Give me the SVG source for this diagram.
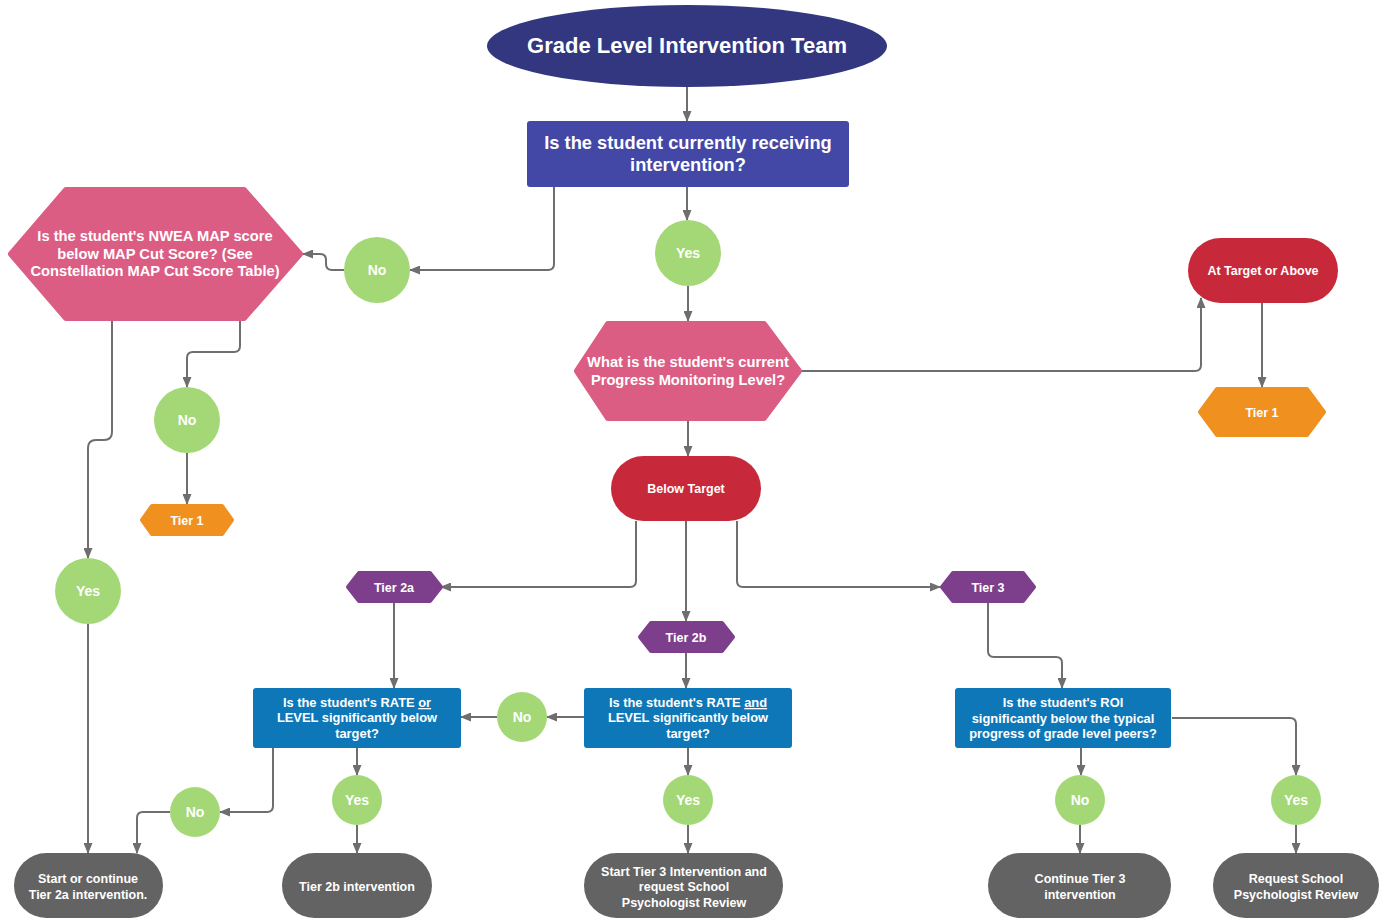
<svg xmlns="http://www.w3.org/2000/svg" width="1384" height="920" viewBox="0 0 1384 920">
<style>
text{font-family:"Liberation Sans",Arial,sans-serif;font-weight:bold;fill:#ffffff;text-anchor:middle}
.c{fill:none;stroke:#6e6e6e;stroke-width:2}
.g{fill:#a4d877}
.pk{fill:#dc5d84;stroke:#dc5d84;stroke-width:6;stroke-linejoin:round}
.or{fill:#f0911f;stroke:#f0911f;stroke-width:4;stroke-linejoin:round}
.pu{fill:#7d3f8b;stroke:#7d3f8b;stroke-width:4;stroke-linejoin:round}
.rd{fill:#c8293a}
.bl{fill:#0e77b8}
.gy{fill:#636363}
.t12{font-size:12.5px}
.tb{font-size:12.9px}
.t14{font-size:14px}
.th{font-size:14.7px}
</style>
<defs>
<marker id="a" markerUnits="userSpaceOnUse" markerWidth="11" markerHeight="9" refX="10" refY="4.5" orient="auto">
<path d="M0,0 L11,4.5 L0,9 z" fill="#6e6e6e"/>
</marker>
</defs>
<rect width="1384" height="920" fill="#ffffff"/>

<g id="connectors">
<path class="c" marker-end="url(#a)" d="M687,87 L687,121"/>
<path class="c" marker-end="url(#a)" d="M554,187 L554,264 Q554,270 548,270 L410,270"/>
<path class="c" marker-end="url(#a)" d="M344,270 L332,270 Q326,270 326,264 L326,260 Q326,254 320,254 L303,254"/>
<path class="c" marker-end="url(#a)" d="M687,187 L687,220"/>
<path class="c" marker-end="url(#a)" d="M688,286 L688,321"/>
<path class="c" marker-end="url(#a)" d="M802,371 L1195,371 Q1201,371 1201,365 L1201,298"/>
<path class="c" marker-end="url(#a)" d="M1262,303 L1262,387"/>
<path class="c" marker-end="url(#a)" d="M688,421 L688,456"/>
<path class="c" marker-end="url(#a)" d="M112,320 L112,432 Q112,440 104,440 L96,440 Q88,440 88,448 L88,558"/>
<path class="c" marker-end="url(#a)" d="M240,320 L240,346 Q240,352 234,352 L193,352 Q187,352 187,358 L187,387"/>
<path class="c" marker-end="url(#a)" d="M187,453 L187,504"/>
<path class="c" marker-end="url(#a)" d="M88,624 L88,853"/>
<path class="c" marker-end="url(#a)" d="M636,521 L636,581 Q636,587 630,587 L441,587"/>
<path class="c" marker-end="url(#a)" d="M686,521 L686,621"/>
<path class="c" marker-end="url(#a)" d="M737,521 L737,581 Q737,587 743,587 L940,587"/>
<path class="c" marker-end="url(#a)" d="M394,603 L394,688"/>
<path class="c" marker-end="url(#a)" d="M686,653 L686,688"/>
<path class="c" marker-end="url(#a)" d="M988,603 L988,651 Q988,657 994,657 L1056,657 Q1062,657 1062,663 L1062,688"/>
<path class="c" marker-end="url(#a)" d="M584,717 L547,717"/>
<path class="c" marker-end="url(#a)" d="M497,717 L461,717"/>
<path class="c" marker-end="url(#a)" d="M357,748 L357,775"/>
<path class="c" marker-end="url(#a)" d="M357,825 L357,853"/>
<path class="c" marker-end="url(#a)" d="M273,748 L273,806 Q273,812 267,812 L220,812"/>
<path class="c" marker-end="url(#a)" d="M170,812 L143,812 Q137,812 137,818 L137,853"/>
<path class="c" marker-end="url(#a)" d="M688,748 L688,775"/>
<path class="c" marker-end="url(#a)" d="M688,825 L688,853"/>
<path class="c" marker-end="url(#a)" d="M1081,748 L1081,775"/>
<path class="c" marker-end="url(#a)" d="M1080,825 L1080,853"/>
<path class="c" marker-end="url(#a)" d="M1172,718 L1290,718 Q1296,718 1296,724 L1296,775"/>
<path class="c" marker-end="url(#a)" d="M1296,825 L1296,853"/>
</g>

<g id="title">
<ellipse cx="687" cy="46" rx="200" ry="41" fill="#323780"/>
<text x="687" y="53" style="font-size:22px">Grade Level Intervention Team</text>
</g>

<g id="q-receiving">
<rect x="527" y="121" width="322" height="66" rx="3" fill="#4348a6"/>
<text x="688" y="149" style="font-size:18.3px">Is the student currently receiving</text>
<text x="688" y="171" style="font-size:18.3px">intervention?</text>
</g>

<g id="no-receiving">
<circle class="g" cx="377" cy="270" r="33"/>
<text class="t14" x="377" y="275">No</text>
</g>

<g id="yes-receiving">
<circle class="g" cx="688" cy="253" r="33"/>
<text class="t14" x="688" y="258">Yes</text>
</g>

<g id="q-map">
<polygon class="pk" points="11,254 66,190 244,190 300,254 244,318 66,318"/>
<text class="th" x="155" y="241">Is the student's NWEA MAP score</text>
<text class="th" x="155" y="259">below MAP Cut Score? (See</text>
<text class="th" x="155" y="276">Constellation MAP Cut Score Table)</text>
</g>

<g id="no-map">
<circle class="g" cx="187" cy="420" r="33"/>
<text class="t14" x="187" y="425">No</text>
</g>

<g id="tier1-left">
<polygon class="or" points="142,520 152,506 222,506 232,520 222,534 152,534"/>
<text class="t12" x="187" y="525">Tier 1</text>
</g>

<g id="yes-map">
<circle class="g" cx="88" cy="591" r="33"/>
<text class="t14" x="88" y="596">Yes</text>
</g>

<g id="q-progress">
<polygon class="pk" points="577,371 608,324 764,324 799,371 764,418 608,418"/>
<text class="th" x="688" y="367">What is the student's current</text>
<text class="th" x="688" y="385">Progress Monitoring Level?</text>
</g>

<g id="at-target">
<rect class="rd" x="1188" y="238" width="150" height="65" rx="32.5"/>
<text class="t12" x="1263" y="275">At Target or Above</text>
</g>

<g id="tier1-right">
<polygon class="or" points="1200,412 1217,389 1307,389 1324,412 1307,435 1217,435"/>
<text class="t12" x="1262" y="417">Tier 1</text>
</g>

<g id="below-target">
<rect class="rd" x="611" y="456" width="150" height="65" rx="32.5"/>
<text class="t12" x="686" y="493">Below Target</text>
</g>

<g id="tier2a">
<polygon class="pu" points="348,587 359,573 430,573 441,587 430,601 359,601"/>
<text class="t12" x="394" y="592">Tier 2a</text>
</g>

<g id="tier2b">
<polygon class="pu" points="640,637 651,623 722,623 733,637 722,651 651,651"/>
<text class="t12" x="686" y="642">Tier 2b</text>
</g>

<g id="tier3">
<polygon class="pu" points="942,587 953,573 1023,573 1034,587 1023,601 953,601"/>
<text class="t12" x="988" y="592">Tier 3</text>
</g>

<g id="q-rate-or">
<rect class="bl" x="253" y="688" width="208" height="60" rx="3"/>
<text class="tb" x="357" y="707">Is the student's RATE <tspan text-decoration="underline">or</tspan></text>
<text class="tb" x="357" y="722">LEVEL significantly below</text>
<text class="tb" x="357" y="738">target?</text>
</g>

<g id="q-rate-and">
<rect class="bl" x="584" y="688" width="208" height="60" rx="3"/>
<text class="tb" x="688" y="707">Is the student's RATE <tspan text-decoration="underline">and</tspan></text>
<text class="tb" x="688" y="722">LEVEL significantly below</text>
<text class="tb" x="688" y="738">target?</text>
</g>

<g id="q-roi">
<rect class="bl" x="955" y="688" width="216" height="60" rx="3"/>
<text class="tb" x="1063" y="707">Is the student's ROI</text>
<text class="tb" x="1063" y="723">significantly below the typical</text>
<text class="tb" x="1063" y="738">progress of grade level peers?</text>
</g>

<g id="no-and">
<circle class="g" cx="522" cy="717" r="25"/>
<text class="t14" x="522" y="722">No</text>
</g>

<g id="no-or">
<circle class="g" cx="195" cy="812" r="25"/>
<text class="t14" x="195" y="817">No</text>
</g>

<g id="yes-or">
<circle class="g" cx="357" cy="800" r="25"/>
<text class="t14" x="357" y="805">Yes</text>
</g>

<g id="yes-and">
<circle class="g" cx="688" cy="800" r="25"/>
<text class="t14" x="688" y="805">Yes</text>
</g>

<g id="no-roi">
<circle class="g" cx="1080" cy="800" r="25"/>
<text class="t14" x="1080" y="805">No</text>
</g>

<g id="yes-roi">
<circle class="g" cx="1296" cy="800" r="25"/>
<text class="t14" x="1296" y="805">Yes</text>
</g>

<g id="start-tier2a">
<rect class="gy" x="14" y="853" width="149" height="65" rx="32.5"/>
<text class="t12" x="88" y="883">Start or continue</text>
<text class="t12" x="88" y="899">Tier 2a intervention.</text>
</g>

<g id="tier2b-intervention">
<rect class="gy" x="282" y="853" width="150" height="65" rx="32.5"/>
<text class="t12" x="357" y="891">Tier 2b intervention</text>
</g>

<g id="start-tier3">
<rect class="gy" x="584" y="853" width="199" height="65" rx="32.5"/>
<text class="t12" x="684" y="876">Start Tier 3 Intervention and</text>
<text class="t12" x="684" y="891">request School</text>
<text class="t12" x="684" y="907">Psychologist Review</text>
</g>

<g id="continue-tier3">
<rect class="gy" x="988" y="853" width="183" height="65" rx="32.5"/>
<text class="t12" x="1080" y="883">Continue Tier 3</text>
<text class="t12" x="1080" y="899">intervention</text>
</g>

<g id="request-review">
<rect class="gy" x="1213" y="853" width="166" height="65" rx="32.5"/>
<text class="t12" x="1296" y="883">Request School</text>
<text class="t12" x="1296" y="899">Psychologist Review</text>
</g>
</svg>
